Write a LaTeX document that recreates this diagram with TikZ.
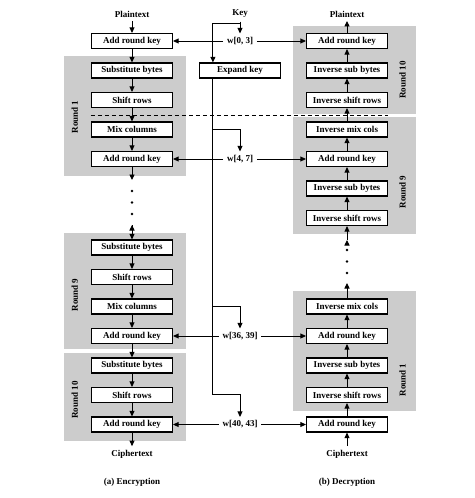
\documentclass[tikz,border=0pt]{standalone}
\usepackage{fontspec}
\setmainfont{Liberation Serif}
\usetikzlibrary{arrows.meta,backgrounds}
\definecolor{roundgray}{RGB}{204,204,204}

\begin{document}
\begin{tikzpicture}[x=1pt, y=1pt, line width=0.9pt, node distance=29.5pt,
    >={Triangle[length=5.5pt,width=5pt]},
    font=\bfseries\fontsize{9}{10}\selectfont,
    stage/.style={draw, line width=1.2pt, fill=white, minimum width=81pt, minimum height=15pt, inner sep=0pt},
    roundlbl/.style={rotate=90, inner sep=0pt}]
        \useasboundingbox (0,0) rectangle (474,-498);

        % encryption
        \node [stage] (e1) at (132,-41) {Add round key};
        \node [above of=e1, node distance=27pt] (e0) {Plaintext};
        \node [stage, below of=e1] (e2) {Substitute bytes};
        \node [stage, below of=e2] (e3) {Shift rows};
        \node [stage, below of=e3] (e4) {Mix columns};
        \node [stage, below of=e4] (e5) {Add round key};
        \node [stage, below of=e5, node distance=88.5pt] (e8) {Substitute bytes};
        \node [stage, below of=e8] (e9) {Shift rows};
        \node [stage, below of=e9] (e10) {Mix columns};
        \node [stage, below of=e10] (e11) {Add round key};
        \node [stage, below of=e11] (e12) {Substitute bytes};
        \node [stage, below of=e12] (e13) {Shift rows};
        \node [stage, below of=e13] (e14) {Add round key};
        \node [below of=e14] (e15) {Ciphertext};
        \node [below of=e15, node distance=28.5pt] (e16) {(a) Encryption};

        % decryption
        \node [stage, right of=e1, node distance=215pt] (d1) {Add round key};
        \node [above of=d1, node distance=27pt] (d0) {Plaintext};
        \node [stage, below of=d1] (d2) {Inverse sub bytes};
        \node [stage, below of=d2] (d3) {Inverse shift rows};
        \node [stage, below of=d3] (d4) {Inverse mix cols};
        \node [stage, below of=d4] (d5) {Add round key};
        \node [stage, below of=d5] (d6) {Inverse sub bytes};
        \node [stage, below of=d6] (d7) {Inverse shift rows};
        \node [stage, below of=d7, node distance=88.5pt] (d10) {Inverse mix cols};
        \node [stage, below of=d10] (d11) {Add round key};
        \node [stage, below of=d11] (d12) {Inverse sub bytes};
        \node [stage, below of=d12] (d13) {Inverse shift rows};
        \node [stage, below of=d13] (d14) {Add round key};
        \node [below of=d14] (d15) {Ciphertext};
        \node [below of=d15, node distance=28.5pt] (d16) {(b) Decryption};

        % key schedule
        \node [right of=e0, node distance=108pt] (k0) {Key};
        \node [right of=e1, node distance=108pt] (k1) {w[0, 3]};
        \node [stage, right of=e2, node distance=108pt] (k2) {Expand key};
        \node [right of=e5, node distance=108pt] (k5) {w[4, 7]};
        \node [right of=e11, node distance=108pt] (k11) {w[36, 39]};
        \node [right of=e14, node distance=108pt] (k14) {w[40, 43]};

        \coordinate (e6) at ([yshift=-21pt]e5.center);
        \coordinate (e7) at ([yshift=-66pt]e5.center);
        \coordinate (d8) at ([yshift=-22pt]d7.center);
        \coordinate (d9) at ([yshift=23.5pt]d10.center);
        \coordinate (kj) at ([yshift=-9pt]k0.center);
        \coordinate (t) at ([xshift=14pt]k2.south west);
        \coordinate (b5) at ([yshift=30pt]k5.center);
        \coordinate (b11) at ([yshift=30pt]k11.center);

        \begin{scope}[on background layer]
          \fill[roundgray] ([xshift=-27pt,yshift=6pt]e2.north west) rectangle ([xshift=13pt,yshift=-8.5pt]e5.south east);
          \fill[roundgray] ([xshift=-27pt,yshift=6pt]e8.north west) rectangle ([xshift=13pt,yshift=-4.5pt]e11.south east);
          \fill[roundgray] ([xshift=-27pt,yshift=4pt]e12.north west) rectangle ([xshift=13pt,yshift=-8pt]e14.south east);
          \fill[roundgray] ([xshift=-12.5pt,yshift=6.5pt]d1.north west) rectangle ([xshift=27.5pt,yshift=-5.5pt]d3.south east);
          \fill[roundgray] ([xshift=-12.5pt,yshift=4pt]d4.north west) rectangle ([xshift=27.5pt,yshift=-7.5pt]d7.south east);
          \fill[roundgray] ([xshift=-12.5pt,yshift=7pt]d10.north west) rectangle ([xshift=27.5pt,yshift=-7.5pt]d13.south east);
        \end{scope}

        \node [roundlbl] (r1) at ([xshift=-16pt,yshift=-17pt]e3.west) {Round 1};
        \node [roundlbl] (r9) at ([xshift=-16pt,yshift=-18pt]e9.west) {Round 9};
        \node [roundlbl] (r10) at ([xshift=-16pt,yshift=-5pt]e13.west) {Round 10};
        \node [roundlbl] (s10) at ([xshift=14.5pt,yshift=-9.5pt]d2.east) {Round 10};
        \node [roundlbl] (s9) at ([xshift=14.5pt,yshift=-3.5pt]d6.east) {Round 9};
        \node [roundlbl] (s1) at ([xshift=14.5pt,yshift=-14.5pt]d12.east) {Round 1};

        \draw [dashed, line width=0.8pt, dash pattern=on 4pt off 3pt] ([yshift=6pt]e4.north west) -- ([yshift=6pt]d4.north east);

        \draw[->] (e0) edge (e1) (e1) edge (e2) (e2) edge (e3) (e3) edge (e4) (e4) edge (e5) (e5) edge (e6)
          (e7) edge (e8) (e8) edge (e9) (e9) edge (e10) (e10) edge (e11) (e11) edge (e12) (e12) edge (e13)
          (e13) edge (e14) (e14) edge (e15);
        \draw[->] (d15) edge (d14) (d14) edge (d13) (d13) edge (d12) (d12) edge (d11) (d11) edge (d10) (d10) edge (d9)
          (d8) edge (d7) (d7) edge (d6) (d6) edge (d5) (d5) edge (d4) (d4) edge (d3) (d3) edge (d2)
          (d2) edge (d1) (d1) edge (d0);
        \foreach \s in {32,43.5,55} {
          \fill ([yshift=-\s pt]e5.center) circle (1.3);
          \fill ([yshift=-\s pt]d7.center) circle (1.3);
        }

        \draw[->] (k0) -- (k1);
        \draw[->] (kj) -| ([xshift=14pt]k2.north west);
        \draw[->] (t) |- ([yshift=30pt]k14.center) -- (k14);
        \draw[->] (b5 -| t) -| (k5);
        \draw[->] (b11 -| t) -| (k11);
        \draw[->] (k1) edge (e1) (k1) edge (d1) (k5) edge (e5) (k5) edge (d5)
          (k11) edge (e11) (k11) edge (d11) (k14) edge (e14) (k14) edge (d14);
      \end{tikzpicture}
\end{document}
